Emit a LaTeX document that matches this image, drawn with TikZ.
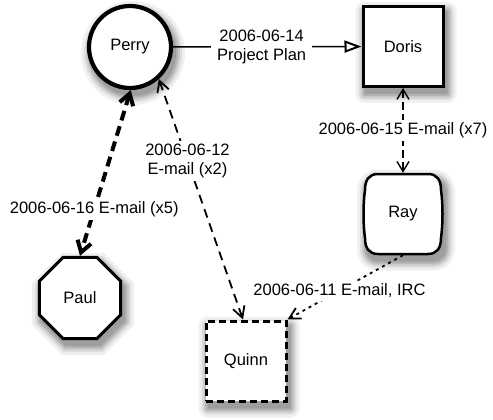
\documentclass[tikz,border=0pt]{standalone}
\usepackage{fontspec}
\setmainfont{Liberation Sans}
\usetikzlibrary{arrows.meta,shapes.geometric}

\begin{document}
\begin{tikzpicture}[x=1pt,y=-1pt,
  txt/.style={font=\fontsize{16.5}{19}\selectfont},
  lbl/.style={txt, fill=white, inner xsep=6pt, inner ysep=3pt, align=center},
  person/.style={draw, fill=white, txt},
  octo/.style={regular polygon, regular polygon sides=8},
  shadownode/.style={draw=none, inner sep=0pt, text=black},
]
\useasboundingbox (0,0) rectangle (493,420);

% soft shadows drawn as filled nodes, lightest and largest first
\foreach \g/\e in {0.94/9, 0.87/6, 0.79/4, 0.70/2, 0.62/0}{
  \definecolor{shc}{gray}{\g}
  \node[shadownode, circle, fill=shc, minimum size={86+2*\e}] at (133,53) {};
  \node[shadownode, rectangle, fill=shc, rounded corners={\e+0.1}, minimum size={83+2*\e}] at (406,52.5) {};
  \node[shadownode, rectangle, fill=shc, rounded corners={\e+0.1}, minimum size={83+2*\e}] at (249,367) {};
  \node[shadownode, rectangle, fill=shc, rounded corners={12+\e}, minimum width={80+2*\e}, minimum height={83+2*\e}] at (406,220) {};
  \node[shadownode, octo, fill=shc, minimum size={91+2.16*\e}] at (83,304) {};
}

% nodes
\node[person, circle, line width=4.2pt, minimum size=82pt] (perry) at (130,47) {Perry};
\node[person, rectangle, line width=3pt, minimum size=80pt] (doris) at (403,46.5) {Doris};
\path[draw, fill=white, line width=2.5pt]
  (378,174) -- (428,174)
  .. controls (437,174) and (441,180) .. (441,190)
  .. controls (443,205) and (443,223) .. (441,238)
  .. controls (441,248) and (437,254) .. (428,254)
  -- (378,254)
  .. controls (369,254) and (365,248) .. (365,238)
  .. controls (363,223) and (363,205) .. (365,190)
  .. controls (365,180) and (369,174) .. (378,174) -- cycle;
\node[txt, minimum width=78pt, minimum height=82pt] (ray) at (403,214) {Ray};
\node[person, octo, line width=3pt, minimum size=88pt] (paul) at (80,298) {Paul};
\node[person, rectangle, line width=3pt, dash pattern=on 7pt off 4pt, minimum size=80pt] (quinn) at (246,361) {Quinn};

% edges
\draw[line width=1.6pt, -{Triangle[open,length=17pt,width=12pt,line width=2pt]}]
  (perry) -- node[lbl, pos=0.47] {2006-06-14\\Project Plan} (doris);
\draw[line width=1.4pt, dash pattern=on 8pt off 4pt,
  {Straight Barb[length=10pt,width=12pt]}-{Straight Barb[length=10pt,width=12pt]}]
  (doris.south) -- node[lbl] {2006-06-15 E-mail (x7)} (ray.north);
\draw[line width=4pt, dash pattern=on 10pt off 6pt,
  {Straight Barb[length=11pt,width=14pt]}-{Straight Barb[length=11pt,width=14pt]}]
  (perry.-89) -- node[lbl, pos=0.72] {2006-06-16 E-mail (x5)} (paul.north);
\draw[line width=1.8pt, dash pattern=on 9pt off 6pt,
  {Straight Barb[length=11pt,width=12pt]}-{Straight Barb[length=11pt,width=12pt]}]
  (perry.-48) -- node[lbl, pos=0.34] {2006-06-12\\E-mail (x2)} ([xshift=-3pt]quinn.north);
\draw[line width=1.8pt, dash pattern=on 3pt off 4pt,
  -{Straight Barb[length=11pt,width=12pt]}]
  (ray.south) -- node[lbl, pos=0.55] {2006-06-11 E-mail, IRC} (quinn.north east);
\end{tikzpicture}
\end{document}
